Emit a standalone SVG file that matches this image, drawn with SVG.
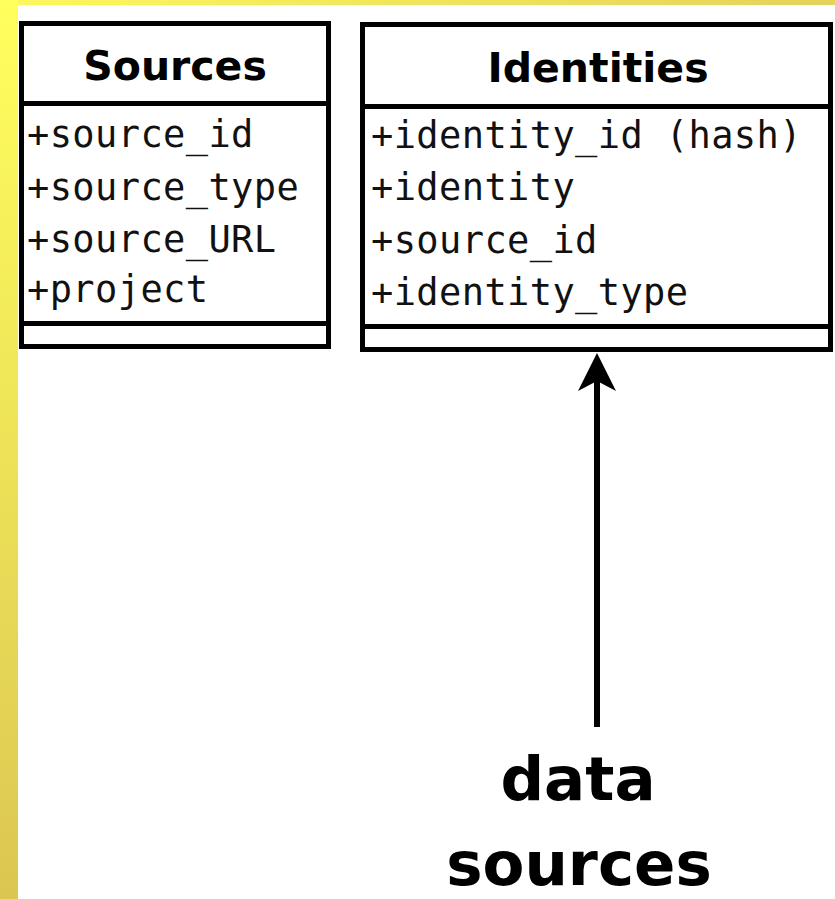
<svg xmlns="http://www.w3.org/2000/svg" width="835" height="899" viewBox="0 0 835 899">
<defs>
<linearGradient id="yelTop" x1="0" y1="0" x2="1" y2="0">
<stop offset="0" stop-color="#fcf85c"/>
<stop offset="1" stop-color="#e4d25a"/>
</linearGradient>
<linearGradient id="yelLeft" x1="0" y1="0" x2="0" y2="1">
<stop offset="0" stop-color="#ffff5e"/>
<stop offset="1" stop-color="#dcc652"/>
</linearGradient>
</defs>
<style>
.box{fill:#ffffff;stroke:#000000;stroke-width:5}
.sep{stroke:#000000;stroke-width:5}
.title{font-family:"DejaVu Sans",sans-serif;font-weight:bold;font-size:41px;fill:#000000;text-anchor:middle}
.attr{font-family:"DejaVu Sans Mono",monospace;font-size:37px;letter-spacing:0.4px;fill:#111111}
.label{font-family:"DejaVu Sans",sans-serif;font-weight:bold;font-size:61px;fill:#000000;text-anchor:middle}
.conn{stroke:#000000;stroke-width:6;fill:none}
</style>
<rect x="0" y="0" width="835" height="899" fill="#ffffff"/>
<rect x="0" y="0" width="835" height="5" fill="url(#yelTop)"/>
<rect x="0" y="0" width="18" height="899" fill="url(#yelLeft)"/>

<g id="sources">
<rect class="box" x="21.5" y="23.5" width="307" height="323"/>
<line class="sep" x1="21.5" y1="103.5" x2="328.5" y2="103.5"/>
<line class="sep" x1="21.5" y1="323.5" x2="328.5" y2="323.5"/>
<text class="title" x="175" y="80">Sources</text>
<text class="attr" x="27" y="147">+source_id</text>
<text class="attr" x="27" y="200">+source_type</text>
<text class="attr" x="27" y="252">+source_URL</text>
<text class="attr" x="27" y="302">+project</text>
</g>

<g id="identities">
<rect class="box" x="362.5" y="24.5" width="468" height="325"/>
<line class="sep" x1="362.5" y1="106.5" x2="830.5" y2="106.5"/>
<line class="sep" x1="362.5" y1="326.5" x2="830.5" y2="326.5"/>
<text class="title" x="598" y="82">Identities</text>
<text class="attr" x="371" y="148">+identity_id (hash)</text>
<text class="attr" x="371" y="200">+identity</text>
<text class="attr" x="371" y="253">+source_id</text>
<text class="attr" x="371" y="305">+identity_type</text>
</g>

<g id="data-sources">
<text class="label" x="578" y="800">data</text>
<text class="label" x="579" y="885">sources</text>
</g>

<g id="connectors">
<line class="conn" x1="597" y1="727" x2="597" y2="378"/>
<polygon points="597,353 616,391 597,381 578,391" fill="#000000"/>
</g>
</svg>
